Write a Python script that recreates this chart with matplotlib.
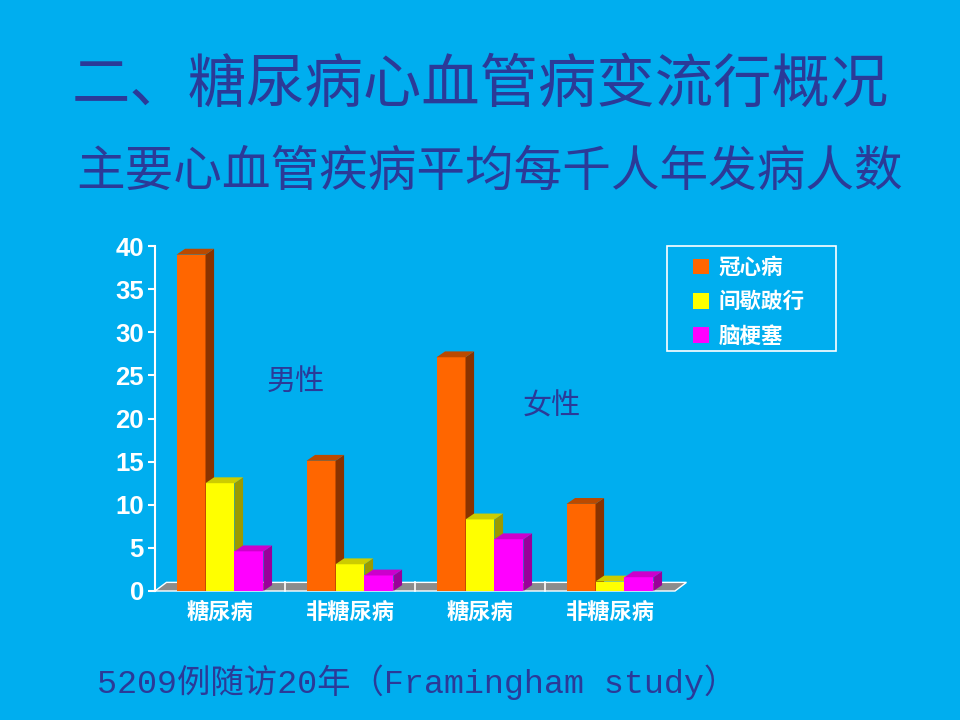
import matplotlib
matplotlib.use('Agg')
import matplotlib.pyplot as plt
from matplotlib.patches import Polygon, Patch, Rectangle

plt.rcParams['font.family'] = ['Noto Sans CJK SC', 'DejaVu Sans']

groups = ['糖尿病', '非糖尿病', '糖尿病', '非糖尿病']
series = ['冠心病', '间歇跛行', '脑梗塞']
chd = [39.0, 15.1, 27.1, 10.1]
claud = [12.5, 3.1, 8.3, 1.1]
stroke = [4.6, 1.8, 6.0, 1.6]
yticks = [0, 5, 10, 15, 20, 25, 30, 35, 40]

bg = '#00AEEF'
navy = '#2B3A98'
front = ['#FF6600', '#FFFF00', '#FF00FF']
side = ['#8A3300', '#9A9A00', '#990099']
top = ['#BB4A00', '#CCCC00', '#CC00CC']

fig = plt.figure(figsize=(9.6, 7.2), dpi=100, facecolor=bg)
ax = fig.add_axes([155 / 960, 129 / 720, 520 / 960, 345 / 720])
ax.set_facecolor('none')
ax.set_xlim(0, 4)
ax.set_ylim(0, 40)

w = 0.223
dx = 0.066
dy = 0.68
fdx = 0.088
fdy = 1.0

# floor
floor = Polygon([(0, 0), (4, 0), (4 + fdx, fdy), (fdx, fdy)], closed=True,
                facecolor='#8C8C8C', edgecolor='white', lw=1, clip_on=False, zorder=1)
ax.add_patch(floor)
for k in range(1, 4):
    ax.plot([k, k], [0, fdy], color='white', lw=1.2, clip_on=False, zorder=1.5)

data = [chd, claud, stroke]
for j, vals in enumerate(data):
    xs = [i + 0.5 - 1.5 * w + j * w for i in range(len(groups))]
    for x0, v in zip(xs, vals):
        z = 2 + j
        ax.bar(x0, v, width=w, align='edge', color=front[j], zorder=z, clip_on=False)
        ax.add_patch(Polygon([(x0 + w, 0), (x0 + w + dx, dy), (x0 + w + dx, v + dy), (x0 + w, v)],
                             closed=True, facecolor=side[j], edgecolor='none', zorder=z, clip_on=False))
        ax.add_patch(Polygon([(x0, v), (x0 + w, v), (x0 + w + dx, v + dy), (x0 + dx, v + dy)],
                             closed=True, facecolor=top[j], edgecolor='none', zorder=z, clip_on=False))

for s in ['top', 'right', 'bottom']:
    ax.spines[s].set_visible(False)
ax.spines['left'].set_color('white')
ax.spines['left'].set_linewidth(1.5)
ax.set_yticks(yticks)
ax.set_yticklabels([str(t) for t in yticks], fontsize=18.5, fontweight='bold',
                   color='white', family=['Liberation Sans', 'DejaVu Sans'])
ax.tick_params(axis='y', colors='white', length=5, width=1.5, pad=3)
ax.set_xticks([i + 0.5 for i in range(len(groups))])
ax.set_xticklabels(groups, fontsize=16, fontweight='bold', color='white')
ax.tick_params(axis='x', length=0, pad=7)

ax.text(1.08, 24.3, '男性', fontsize=21, color=navy, ha='center', va='center', fontweight='light')
ax.text(3.05, 21.4, '女性', fontsize=21, color=navy, ha='center', va='center', fontweight='light')

# legend frame drawn separately so its size matches the slide
fig.patches.append(Rectangle((667 / 960, 1 - 351 / 720), 169 / 960, 105 / 720,
                             transform=fig.transFigure, facecolor='none',
                             edgecolor='white', lw=1.2))
handles = [Patch(facecolor=front[j], edgecolor='none') for j in range(3)]
leg = fig.legend(handles, series, loc='upper left', bbox_to_anchor=(693 / 960, 1 - 257 / 720),
                 frameon=False, handlelength=0.75, handleheight=0.75, handletextpad=0.45,
                 labelspacing=0.62, borderpad=0, borderaxespad=0,
                 prop={'size': 15.5, 'weight': 'bold'})
for t in leg.get_texts():
    t.set_color('white')

fig.text(0.5, 1 - 85 / 720, '二、糖尿病心血管病变流行概况', fontsize=42, color=navy,
         ha='center', va='center', fontweight='medium')
fig.text(0.51, 1 - 172 / 720, '主要心血管疾病平均每千人年发病人数', fontsize=35, color=navy,
         ha='center', va='center')
fig.text(97 / 960, 1 - 682 / 720, '5209例随访20年（Framingham study）', fontsize=24, color=navy,
         ha='left', va='center', family=['Liberation Mono', 'Noto Sans CJK SC'])

fig.savefig('out.png', dpi=100, facecolor=bg)
